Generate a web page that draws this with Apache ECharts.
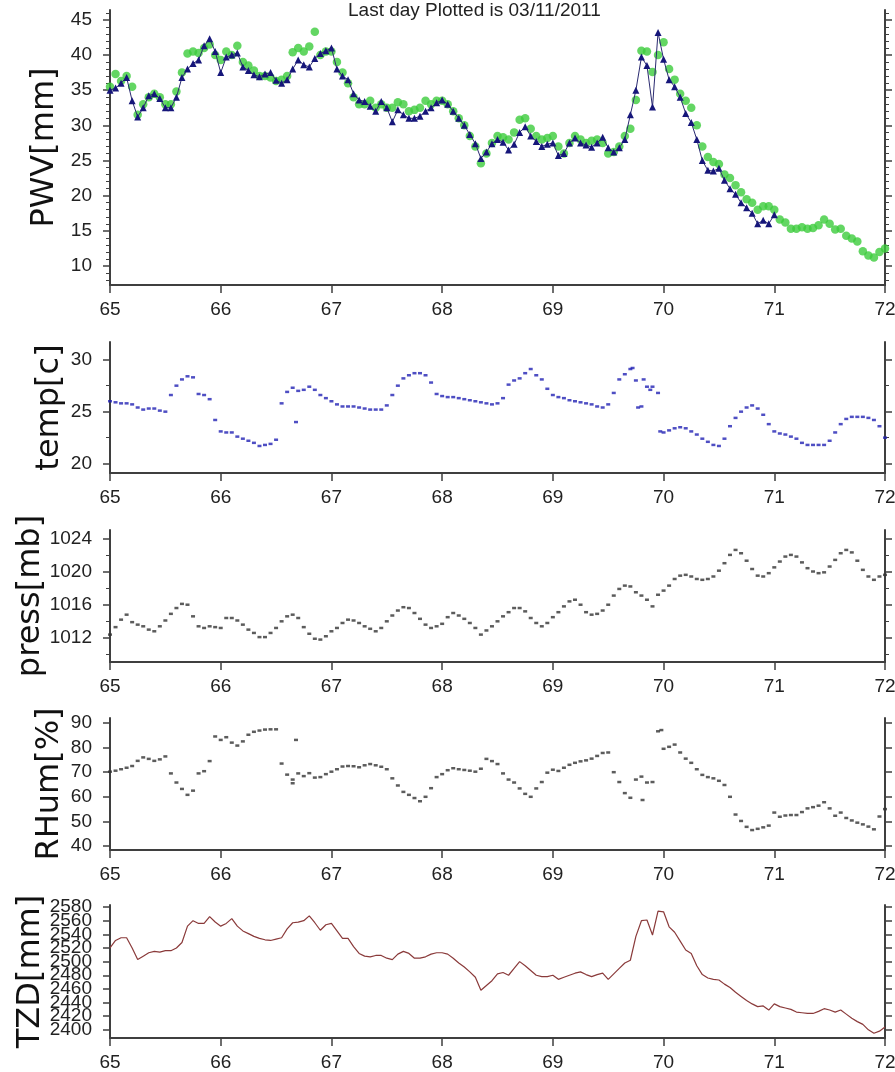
<!DOCTYPE html>
<html>
<head>
<meta charset="utf-8">
<script src="https://cdn.jsdelivr.net/npm/echarts@6/dist/echarts.min.js"></script>
<style>
  html, body { margin: 0; padding: 0; background: #fff; }
  #chart { width: 895px; height: 1072px; }
</style>
</head>
<body>
<div id="chart"></div>
<script>
// sampling grid: day of year 65.00 .. 72.00, one sample every 0.05 day
const dayStart = 65;
const dayStep = 0.05;

// PWV, blue triangles (ends at day 71)
const pwvBlue = [
  35.0, 35.3, 36.0, 36.8, 33.5, 31.2, 32.5, 34.2, 34.5, 33.8, 32.5, 32.5, 34.0, 36.8, 38.0, 38.8, 39.3, 41.3, 42.3, 40.5,
  37.5, 39.7, 40.0, 40.3, 38.3, 37.8, 37.2, 36.9, 37.3, 37.5, 36.4, 36.0, 36.5, 38.0, 39.3, 38.6, 38.3, 39.5, 40.2, 40.6,
  41.0, 38.0, 37.0, 36.5, 34.5, 33.6, 33.4, 32.7, 32.0, 33.4, 32.5, 30.5, 32.2, 31.5, 31.0, 31.0, 31.3, 32.0, 32.5, 33.2,
  33.6, 33.0, 32.0, 31.0, 30.0, 28.7, 27.4, 25.3, 26.2, 27.4, 28.0, 27.6, 26.5, 27.3, 29.0, 29.8, 28.5, 27.7, 27.0, 27.3,
  27.5, 25.7, 26.0, 27.5, 28.2, 27.5, 27.2, 26.9, 27.5, 28.3, 26.8, 26.2, 26.8, 28.0, 31.5, 35.0, 39.7, 38.5, 32.6, 43.2,
  39.4, 36.5, 35.5, 34.0, 31.7, 30.4, 28.0, 25.0, 23.6, 23.5, 23.9, 22.2, 21.0, 20.2, 19.0, 18.3, 17.5, 16.0, 16.5, 16.0,
  17.3
];

// PWV, green circles
const pwvGreen = [
  35.5, 37.3, 36.3, 37.0, 35.5, 31.5, 33.0, 34.0, 34.5, 34.0, 33.0, 33.0, 34.8, 37.5, 40.2, 40.5, 40.3, 41.0, 41.5, 40.0,
  39.3, 40.5, 40.0, 41.3, 39.0, 38.5, 37.8, 37.0, 37.0, 36.8, 36.3, 36.5, 37.0, 40.4, 41.0, 40.5, 41.2, 43.3, 40.0, 40.5,
  40.5, 39.0, 37.5, 36.0, 34.0, 33.0, 33.0, 33.5, 32.5, 33.0, 32.5, 32.5, 33.3, 33.0, 32.0, 32.2, 32.5, 33.5, 33.0, 33.5,
  33.5, 33.0, 32.0, 31.0, 30.0, 28.5, 27.0, 24.6, 26.0, 27.5, 28.5, 28.3, 28.0, 29.0, 30.8, 31.0, 29.5, 28.5, 28.0, 28.2,
  28.5, 27.0, 26.0, 27.5, 28.5, 28.0, 27.5, 27.8, 28.0, 27.5, 26.0, 26.2, 27.0, 28.5, 29.5, 33.6, 40.6, 40.5, 37.6, 40.0,
  41.8, 38.0, 36.5, 34.5, 33.5, 32.5, 30.0, 27.0, 25.5, 24.8, 24.5, 23.0, 22.5, 21.5, 20.5, 19.5, 19.0, 18.0, 18.5, 18.5,
  18.0, 16.6, 16.2, 15.3, 15.3, 15.5, 15.3, 15.4, 15.8, 16.6, 16.0, 15.2, 15.3, 14.3, 13.9, 13.5, 12.1, 11.5, 11.2, 12.0,
  12.5
];

// temperature [c]
const tempVals = [
  26.0, 25.9, 25.8, 25.8, 25.7, 25.4, 25.2, 25.3, 25.3, 25.1, 25.0, 26.6, 27.5, 28.1, 28.4, 28.3, 26.7, 26.6, 26.2, 24.2,
  23.1, 23.0, 23.0, 22.6, 22.4, 22.2, 22.0, 21.7, 21.8, 21.9, 22.3, 25.8, 26.9, 27.3, 27.0, 27.1, 27.4, 27.1, 26.6, 26.3,
  26.0, 25.7, 25.5, 25.5, 25.5, 25.4, 25.3, 25.2, 25.2, 25.2, 25.6, 26.6, 27.5, 28.2, 28.5, 28.7, 28.7, 28.5, 27.8, 26.7,
  26.5, 26.4, 26.4, 26.3, 26.2, 26.1, 26.0, 25.9, 25.8, 25.7, 25.8, 26.3, 27.6, 28.0, 28.2, 28.7, 29.1, 28.5, 28.1, 27.2,
  26.6, 26.4, 26.3, 26.1, 26.0, 25.9, 25.8, 25.7, 25.5, 25.4, 25.7, 26.8, 28.1, 28.6, 29.1, 28.0, 25.5, 27.4, 27.4, 26.8,
  23.0, 23.2, 23.4, 23.5, 23.4, 23.1, 22.8, 22.4, 22.1, 21.8, 21.7, 22.4, 23.6, 24.4, 25.0, 25.4, 25.6, 25.3, 24.7, 23.8,
  23.1, 22.9, 22.8, 22.6, 22.4, 22.0, 21.8, 21.8, 21.8, 21.8, 22.2, 23.0, 23.8, 24.3, 24.5, 24.5, 24.5, 24.4, 24.2, 23.6,
  22.5
];
const tempExtraDays = [66.68, 69.72, 69.77, 69.82, 69.88, 69.97];
const tempExtraVals = [24.0, 29.2, 25.4, 28.1, 27.1, 23.1];

// pressure [mb]
const pressVals = [
  1012.4, 1013.3, 1014.2, 1014.8, 1013.9, 1013.6, 1013.4, 1013.0, 1012.8, 1013.4, 1014.1, 1014.9, 1015.6, 1016.1, 1016.0, 1014.6, 1013.4, 1013.2, 1013.4, 1013.3,
  1013.2, 1014.4, 1014.4, 1014.1, 1013.6, 1013.0, 1012.6, 1012.1, 1012.1, 1012.6, 1013.2, 1014.0, 1014.6, 1014.8, 1014.4, 1013.3, 1012.5, 1011.9, 1011.8, 1012.2,
  1012.8, 1013.2, 1013.8, 1014.2, 1014.1, 1013.8, 1013.4, 1013.1, 1012.8, 1013.2, 1014.0, 1014.7, 1015.3, 1015.7, 1015.6, 1015.0, 1014.3, 1013.6, 1013.2, 1013.4,
  1013.7, 1014.5, 1015.0, 1014.7, 1014.3, 1013.8, 1013.2, 1012.4, 1012.9, 1013.4, 1014.0, 1014.6, 1015.1, 1015.6, 1015.6, 1015.2, 1014.4, 1013.8, 1013.4, 1013.8,
  1014.5, 1015.1, 1015.8, 1016.4, 1016.6, 1016.0, 1015.1, 1014.8, 1014.9, 1015.3, 1016.0, 1017.1, 1017.9, 1018.3, 1018.2, 1017.5, 1017.1, 1016.6, 1015.8, 1017.2,
  1017.7, 1018.3, 1019.1, 1019.5, 1019.6, 1019.4, 1019.1, 1019.0, 1019.1, 1019.4, 1020.1, 1021.0, 1022.0, 1022.6, 1022.2, 1021.3, 1020.3, 1019.5, 1019.4, 1019.8,
  1020.5, 1021.2, 1021.8, 1022.0, 1021.8, 1021.1, 1020.4, 1020.0, 1019.8, 1019.9, 1020.6, 1021.4, 1022.2, 1022.6, 1022.3, 1021.3, 1020.2, 1019.4, 1019.0, 1019.4,
  1019.6
];

// relative humidity [%]
const rhumVals = [
  70.2, 70.6, 71.2, 71.8, 72.5, 74.6, 76.0, 75.4, 74.6, 75.2, 76.4, 69.5, 65.8, 63.2, 60.8, 62.5, 69.5, 70.4, 74.5, 84.5,
  83.1, 84.2, 82.0, 80.8, 82.5, 85.2, 86.4, 86.9, 87.3, 87.4, 87.4, 73.5, 69.0, 67.0, 69.5, 68.4, 69.6, 67.8, 68.0, 69.2,
  70.2, 71.2, 72.3, 72.5, 72.4, 72.0, 72.8, 73.3, 72.8, 72.2, 71.2, 67.5, 64.6, 62.0, 60.8, 59.5, 58.2, 60.0, 63.5, 68.0,
  69.2, 70.8, 71.6, 71.2, 70.9, 70.6, 70.2, 71.4, 75.4, 74.5, 73.3, 69.5, 67.0, 65.8, 63.4, 61.2, 60.0, 63.4, 66.0, 69.8,
  71.0, 70.5, 71.8, 73.0, 73.8, 74.4, 74.8, 75.5, 76.6, 77.8, 78.0, 70.0, 66.0, 61.5, 59.6, 67.0, 68.2, 65.8, 66.0, 86.6,
  79.5, 80.3, 81.2, 78.0, 75.5, 73.8, 71.2, 68.9, 68.0, 67.5, 66.5, 64.8, 60.0, 52.8, 50.2, 47.8, 46.5, 47.0, 47.6, 48.3,
  53.6, 51.9, 52.4, 52.6, 52.6, 53.8, 55.3, 55.8, 56.4, 57.8, 55.3, 52.3, 53.6, 51.4, 50.4, 49.5, 48.8, 47.9, 46.8, 52.0,
  55.0
];
const rhumExtraDays = [66.65, 66.68, 69.81, 69.98];
const rhumExtraVals = [65.5, 83.1, 58.7, 87.1];

// total zenith delay [mm]
const tzdVals = [
  2520, 2531, 2535, 2535, 2520, 2503, 2508, 2513, 2515, 2514, 2516, 2516, 2520, 2528, 2552, 2560, 2556, 2556, 2566, 2558,
  2552, 2556, 2563, 2552, 2545, 2541, 2537, 2534, 2532, 2531, 2533, 2535, 2548, 2557, 2558, 2560, 2567, 2557, 2546, 2554,
  2556, 2545, 2534, 2534, 2522, 2512, 2508, 2507, 2509, 2509, 2505, 2503, 2511, 2515, 2512, 2505, 2505, 2507, 2511, 2513,
  2513, 2511, 2505, 2498, 2492, 2485, 2477, 2458, 2465, 2472, 2482, 2484, 2480, 2490, 2500, 2494, 2487, 2480, 2478, 2478,
  2480, 2474, 2477, 2480, 2483, 2485, 2481, 2478, 2481, 2483, 2474, 2482, 2490, 2498, 2502, 2537, 2560, 2561, 2539, 2574,
  2573, 2551, 2543, 2530, 2517, 2512, 2494, 2481, 2476, 2474, 2473, 2467, 2462, 2455, 2449, 2443, 2438, 2434, 2435, 2429,
  2438, 2434, 2432, 2430, 2426, 2425, 2424, 2424, 2427, 2431, 2429, 2426, 2429, 2423, 2417, 2412, 2408, 2400, 2395, 2398,
  2404
];

// axis ticks (TZD labels are split in two sets so none of them is dropped)
const dayTicks = [65, 66, 67, 68, 69, 70, 71, 72];
const pwvTicks = [10, 15, 20, 25, 30, 35, 40, 45];
const pwvMinor = [8, 9, 11, 12, 13, 14, 16, 17, 18, 19, 21, 22, 23, 24, 26, 27, 28, 29, 31, 32, 33, 34, 36, 37, 38, 39, 41, 42, 43, 44, 46];
const tempTicks = [20, 25, 30];
const tempMinor = [22.5, 27.5];
const pressTicks = [1012, 1016, 1020, 1024];
const pressMinor = [1010, 1014, 1018, 1022];
const rhumTicks = [40, 50, 60, 70, 80, 90];
const tzdTicks = [2400, 2440, 2480, 2520, 2560];
const tzdTicks2 = [2420, 2460, 2500, 2540, 2580];

const pairs = (vals) => vals.map((v, i) => [dayStart + i * dayStep, v]);
const extraPairs = (ds, vs) => ds.map((d, i) => [d, vs[i]]);

const FONT = 'Liberation Sans';
const NAME_FONT = 'DejaVu Sans';
const AXIS_COLOR = '#3f3f3f';

// second tick set per panel: minor ticks, or (TZD) the other half of the labels
const panels = [
  { top: 10, height: 275, min: 7.3, max: 46.4, ticks: pwvTicks, second: pwvMinor, secondLabels: false, name: 'PWV[mm]', nameGap: 49 },
  { top: 342, height: 131, min: 19.1, max: 31.7, ticks: tempTicks, second: tempMinor, secondLabels: false, name: 'temp[c]', nameGap: 44 },
  { top: 530, height: 132, min: 1009.1, max: 1025, ticks: pressTicks, second: pressMinor, secondLabels: false, name: 'press[mb]', nameGap: 63 },
  { top: 718, height: 132, min: 38.4, max: 92, ticks: rhumTicks, second: [], secondLabels: false, name: 'RHum[%]', nameGap: 44 },
  { top: 905, height: 133, min: 2388, max: 2583, ticks: tzdTicks, second: tzdTicks2, secondLabels: true, name: 'TZD[mm]', nameGap: 63 },
];

const grid = panels.map((p) => ({
  left: 110, right: 10, top: p.top, height: p.height,
  containLabel: false, outerBoundsMode: 'none',
}));

const plain = (v) => String(v);

const labelStyle = (values) => ({
  show: true,
  margin: 18,
  fontFamily: FONT,
  fontSize: 19,
  color: '#222',
  hideOverlap: false,
  showMinLabel: true,
  showMaxLabel: true,
  formatter: plain,
  customValues: values,
});

const xAxis = panels.map((p, i) => ({
  type: 'value',
  gridIndex: i,
  min: 65,
  max: 72,
  interval: 1,
  splitLine: { show: false },
  axisLine: { show: true, onZero: false, lineStyle: { color: AXIS_COLOR, width: 2 } },
  axisTick: { show: true, inside: false, length: 8, lineStyle: { color: AXIS_COLOR, width: 1.5 } },
  axisLabel: Object.assign(labelStyle(dayTicks), { margin: 15 }),
}));

const yAxis = [];
panels.forEach((p, i) => {
  const base = {
    type: 'value',
    gridIndex: i,
    min: p.min,
    max: p.max,
    splitLine: { show: false },
  };
  const hasSecond = p.second.length > 0;
  const secondTick = {
    show: hasSecond,
    length: p.secondLabels ? 7 : 4,
    customValues: hasSecond ? p.second : p.ticks,
    lineStyle: { color: AXIS_COLOR, width: p.secondLabels ? 1.5 : 1 },
  };
  // left main axis with labels
  yAxis.push(Object.assign({}, base, {
    position: 'left',
    name: p.name,
    nameLocation: 'middle',
    nameGap: p.nameGap,
    nameRotate: 90,
    nameMoveOverlap: false,
    nameTextStyle: { fontFamily: NAME_FONT, fontSize: 32, color: '#111' },
    axisLine: { show: true, onZero: false, lineStyle: { color: AXIS_COLOR, width: 2 } },
    axisTick: { show: true, length: 7, customValues: p.ticks, lineStyle: { color: AXIS_COLOR, width: 1.5 } },
    axisLabel: labelStyle(p.ticks),
  }));
  // left second tick set
  yAxis.push(Object.assign({}, base, {
    position: 'left',
    axisLine: { show: false },
    axisTick: secondTick,
    axisLabel: p.secondLabels ? labelStyle(p.second) : { show: false },
  }));
  // right mirror axis
  yAxis.push(Object.assign({}, base, {
    position: 'right',
    axisLine: { show: true, onZero: false, lineStyle: { color: AXIS_COLOR, width: 2 } },
    axisTick: { show: true, length: 7, customValues: p.ticks, lineStyle: { color: AXIS_COLOR, width: 1.5 } },
    axisLabel: { show: false },
  }));
  yAxis.push(Object.assign({}, base, {
    position: 'right',
    axisLine: { show: false },
    axisTick: secondTick,
    axisLabel: { show: false },
  }));
});

const dotStyle = (color) => ({
  type: 'scatter',
  symbol: 'rect',
  symbolSize: [4, 2.5],
  itemStyle: { color: color },
});

const series = [
  {
    name: 'PWV green',
    type: 'scatter',
    xAxisIndex: 0,
    yAxisIndex: 0,
    symbol: 'circle',
    symbolSize: 8.5,
    itemStyle: { color: '#3ccc3c' },
    data: pairs(pwvGreen),
  },
  {
    name: 'PWV blue',
    type: 'line',
    xAxisIndex: 0,
    yAxisIndex: 0,
    symbol: 'triangle',
    symbolSize: 7,
    showAllSymbol: true,
    itemStyle: { color: '#16167a' },
    lineStyle: { color: '#2a2a70', width: 1 },
    data: pairs(pwvBlue),
  },
  Object.assign(dotStyle('#2222b4'), { xAxisIndex: 1, yAxisIndex: 4, data: pairs(tempVals).concat(extraPairs(tempExtraDays, tempExtraVals)) }),
  Object.assign(dotStyle('#333'), { xAxisIndex: 2, yAxisIndex: 8, data: pairs(pressVals) }),
  Object.assign(dotStyle('#333'), { xAxisIndex: 3, yAxisIndex: 12, data: pairs(rhumVals).concat(extraPairs(rhumExtraDays, rhumExtraVals)) }),
  {
    name: 'TZD',
    type: 'line',
    xAxisIndex: 4,
    yAxisIndex: 16,
    symbol: 'none',
    lineStyle: { color: '#8a3a3a', width: 1.2 },
    data: pairs(tzdVals),
  },
];

const chart = echarts.init(document.getElementById('chart'), null, { renderer: 'canvas' });
chart.setOption({
  animation: false,
  backgroundColor: '#fff',
  title: {
    text: 'Last day Plotted is 03/11/2011',
    left: 348,
    top: 1,
    padding: 0,
    textStyle: { fontFamily: FONT, fontSize: 19, fontWeight: 'normal', color: '#222' },
  },
  grid: grid,
  xAxis: xAxis,
  yAxis: yAxis,
  series: series,
});
</script>
</body>
</html>
